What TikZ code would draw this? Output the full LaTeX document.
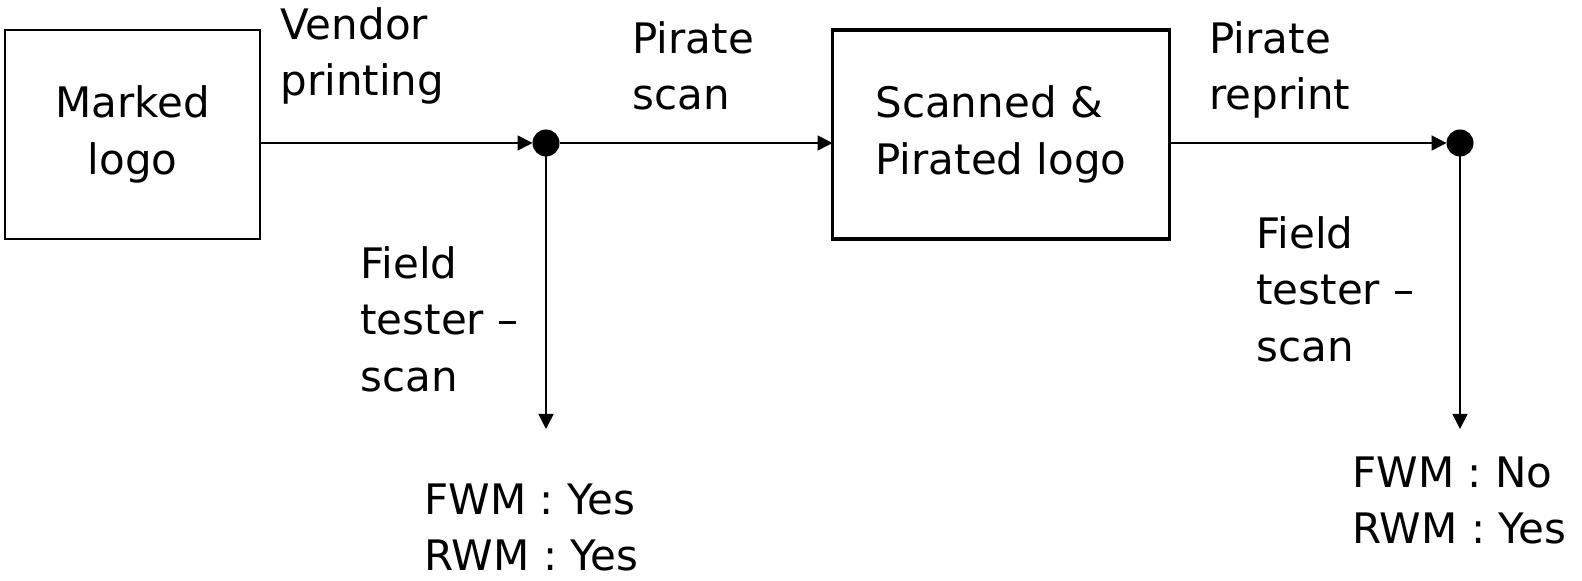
\documentclass[tikz,border=0pt]{standalone}
\usepackage{fontspec}
\setmainfont{DejaVu Sans}
\usetikzlibrary{arrows.meta, positioning}

\begin{document}
\begin{tikzpicture}[x=0.5pt, y=-0.5pt, >={Triangle[length=7.5pt, width=7.5pt]},
	font=\fontsize{21pt}{28.3pt}\selectfont,
	stage/.style={draw, align=center, inner sep=0pt, outer sep=0pt},
	hit/.style={circle, fill, minimum size=13.5pt, inner sep=0pt, outer sep=0pt},
	lbl/.style={anchor=north west, align=left, inner sep=0pt},
	flow/.style={->, line width=0.75pt}]
	% page size of the reference
	\useasboundingbox (0, 0) rectangle (1582, 581);

	\node[stage, line width=0.9pt, minimum width=127.5pt, minimum height=104.5pt]
		(marked) at (132.5, 134.5) {Marked\\logo};
	\node[stage, line width=1.6pt, minimum width=168.5pt, minimum height=104.5pt, align=left]
		(pirated) at (1001, 134.5) {Scanned \&\\Pirated logo};

	\node[hit] (hit1) at (546, 143) {};
	\node[hit] (hit2) at (1460, 143) {};
	\coordinate (test1) at (546, 429);
	\coordinate (test2) at (1460, 429);

	% arrows stay level with the dots
	\draw[flow] (marked.east |- hit1) -- (hit1.west);
	\draw[flow] (hit1.east) -- (pirated.west |- hit1);
	\draw[flow] (pirated.east |- hit2) -- (hit2.west);
	\draw[flow] (hit1.south) -- (test1);
	\draw[flow] (hit2.south) -- (test2);

	% labels
	\node[lbl] (vendor) at (280, 7) {Vendor\\printing};
	\node[lbl] (scan) at (632, 21) {Pirate\\scan};
	\node[lbl] (reprint) at (1209, 21) {Pirate\\reprint};
	\node[lbl] (field1) at (360, 246) {Field\\tester --\\scan};
	\node[lbl] (field2) at (1256, 216) {Field\\tester --\\scan};
	\node[lbl] (res1) at (424, 483) {FWM : Yes\\RWM : Yes};
	\node[lbl] (res2) at (1352, 456) {FWM : No\\RWM : Yes};

\end{tikzpicture}
\end{document}
